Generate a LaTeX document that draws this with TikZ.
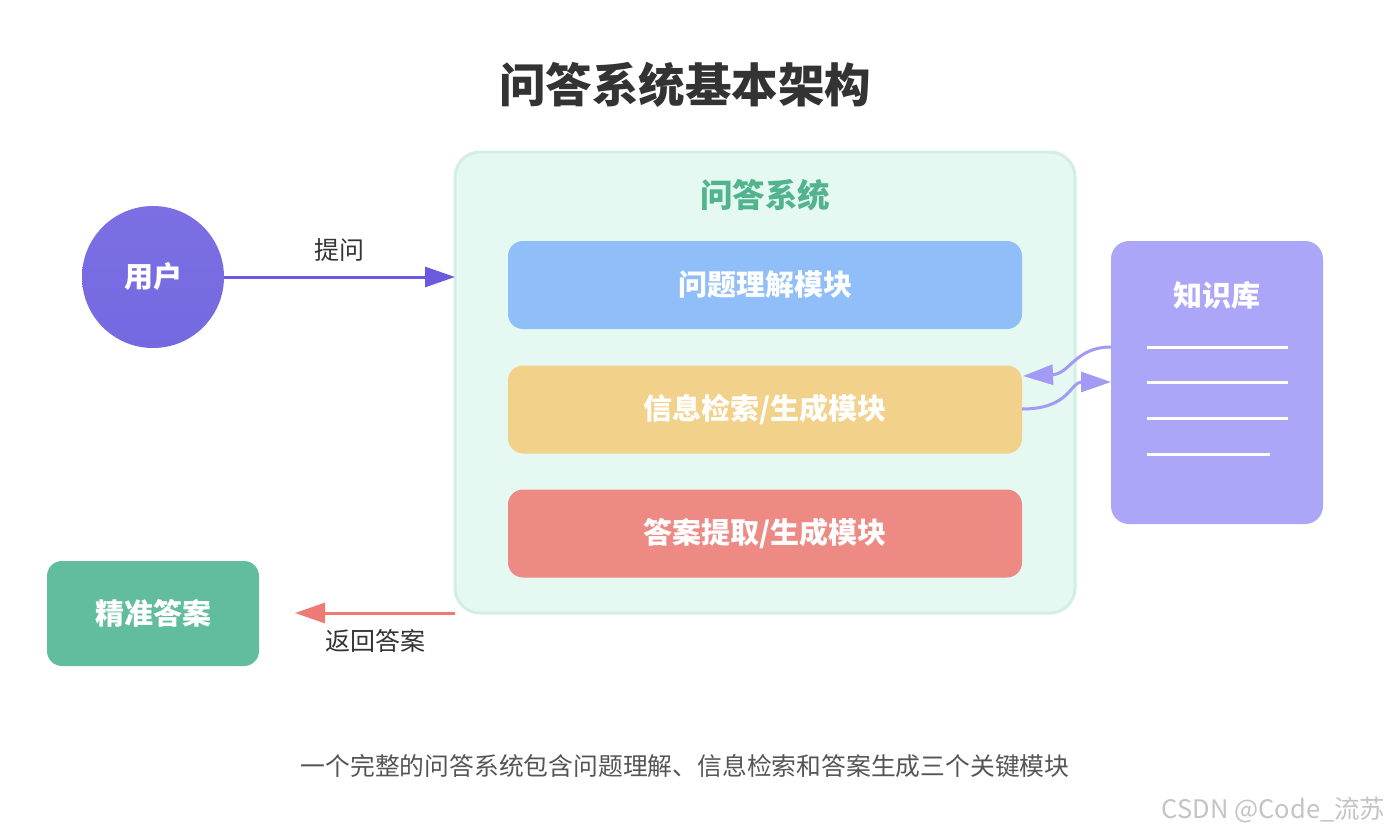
\documentclass[tikz,border=0pt]{standalone}
\usepackage{fontspec}
\setmainfont{Noto Sans CJK SC}
\usetikzlibrary{arrows.meta}
\definecolor{titlec}{HTML}{333333}
\definecolor{sysfill}{HTML}{E5F9F2}
\definecolor{sysline}{HTML}{D3EFE5}
\definecolor{sysgreen}{HTML}{52B48C}
\definecolor{mblue}{HTML}{8FBEF8}
\definecolor{myellow}{HTML}{F2D18A}
\definecolor{mred}{HTML}{ED8A84}
\definecolor{userc}{HTML}{7569E1}
\definecolor{usertop}{HTML}{7C6FE4}
\definecolor{arrowblue}{HTML}{6A5ADF}
\definecolor{ansgreen}{HTML}{62BC9E}
\definecolor{arrowred}{HTML}{EE7A76}
\definecolor{kbc}{HTML}{ACA6F8}
\definecolor{kbarrow}{HTML}{A39AF5}
\definecolor{capc}{HTML}{555555}
\definecolor{wmc}{HTML}{C4C4C4}
\tikzset{
  bold/.style={text=white, font=\fontsize{29}{32}\selectfont\bfseries},
  module/.style={bold, rounded corners=15pt, minimum width=514pt, minimum height=88pt, inner sep=0pt},
  lbl/.style={text=titlec, font=\fontsize{25}{28}\selectfont},
  bigarrow/.style={line width=3pt, -{Triangle[length=30pt,width=20pt]}},
  kbline/.style={draw=white, line width=3pt},
}
\begin{document}
\begin{tikzpicture}[x=1pt,y=-1pt]
\useasboundingbox (0,0) rectangle (1392,835);
\fill[white] (0,0) rectangle (1392,835);
% title
\node[text=titlec, font=\fontsize{46.5}{50}\selectfont\bfseries] (title) at (685,85) {问答系统基本架构};
% system box
\node[draw=sysline, line width=3pt, fill=sysfill, rounded corners=25pt, minimum width=620pt, minimum height=461pt, inner sep=0pt] (sys) at (765,382.5) {};
\node[text=sysgreen, font=\fontsize{32.5}{35}\selectfont\bfseries] (systitle) at (765,195) {问答系统};
\node[module, fill=mblue] (m1) at (765,285) {问题理解模块};
\node[module, fill=myellow] (m2) at (765,409.5) {信息检索/生成模块};
\node[module, fill=mred] (m3) at (765,533.5) {答案提取/生成模块};
% user
\node[bold, circle, top color=usertop, bottom color=userc, minimum size=142pt, inner sep=0pt] (user) at (153,277) {用户};
\coordinate (askend) at (455,277);
\draw[bigarrow, draw=arrowblue] (user.east) -- (askend);
\node[lbl] (ask) at (339,250) {提问};
% answer
\node[bold, fill=ansgreen, rounded corners=15pt, minimum width=212pt, minimum height=105pt, inner sep=0pt] (ans) at (153,613.5) {精准答案};
\coordinate (retstart) at (455,613);
\coordinate (retend) at (295,613);
\draw[bigarrow, draw=arrowred] (retstart) -- (retend);
\node[lbl] (ret) at (375,641) {返回答案};
% knowledge base
\node[fill=kbc, rounded corners=18pt, minimum width=212pt, minimum height=283pt, inner sep=0pt] (kb) at (1217,382.5) {};
\node[bold] (kbt) at (1217,295) {知识库};
\coordinate (l1a) at (1147,347); \coordinate (l1b) at (1288,347);
\coordinate (l2a) at (1147,382); \coordinate (l2b) at (1288,382);
\coordinate (l3a) at (1147,418); \coordinate (l3b) at (1288,418);
\coordinate (l4a) at (1147,454); \coordinate (l4b) at (1270,454);
\draw[kbline] (l1a) -- (l1b);
\draw[kbline] (l2a) -- (l2b);
\draw[kbline] (l3a) -- (l3b);
\draw[kbline] (l4a) -- (l4b);
% kb arrows
\coordinate (ka1) at (1111,347);
\coordinate (kt1) at (1023,376);
\coordinate (ks2) at (1022,409);
\coordinate (kt2) at (1111,382);
\draw[bigarrow, draw=kbarrow] (ka1) .. controls (1075,347) and (1070,374) .. (kt1);
\draw[bigarrow, draw=kbarrow] (ks2) .. controls (1070,409) and (1070,382) .. (kt2);
% caption
\node[text=capc, font=\fontsize{24.8}{28}\selectfont] (cap) at (685,766) {一个完整的问答系统包含问题理解、信息检索和答案生成三个关键模块};
\node[text=wmc, font=\fontsize{25.5}{28}\selectfont, anchor=east] (wm) at (1389,810) {CSDN @Code\_流苏};
\end{tikzpicture}
\end{document}
